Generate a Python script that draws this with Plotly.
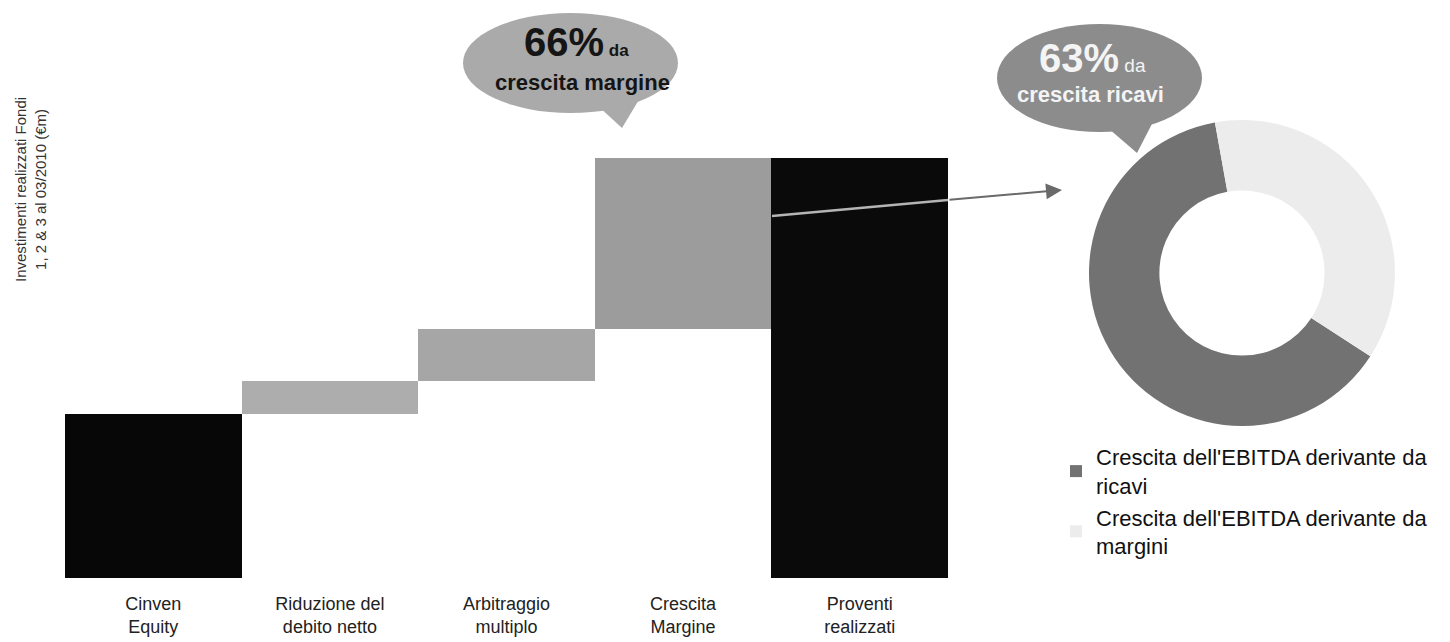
import plotly.graph_objects as go

W, H = 1450, 642

# ---- data ----
categories = ["Cinven Equity", "Riduzione del debito netto", "Arbitraggio multiplo",
              "Crescita Margine", "Proventi realizzati"]
tick_labels = ["Cinven<br>Equity", "Riduzione del<br>debito netto", "Arbitraggio<br>multiplo",
               "Crescita<br>Margine", "Proventi<br>realizzati"]
equity = 164
steps = [33, 52, 171]          # riduzione debito, arbitraggio multiplo, crescita margine
total = equity + sum(steps)

donut_labels = ["Crescita dell'EBITDA derivante da<br>ricavi",
                "Crescita dell'EBITDA derivante da<br>margini"]
donut_values = [63, 37]

bubble1 = ("66%", "da", "crescita margine")
bubble2 = ("63%", "da", "crescita ricavi")

# waterfall bases / heights
bases = [0]
run = equity
for s in steps:
    bases.append(run)
    run += s
bases.append(0)
heights = [equity] + steps + [total]
bar_colors = ["#070707", "#adadad", "#a6a6a6", "#9c9c9c", "#0a0a0a"]

OFF = 8  # page body margin


def px(x):
    return (x - OFF) / W


def py(y):
    return 1 - (y - OFF) / H


FONT = "Liberation Sans, Arial, sans-serif"

fig = go.Figure()
fig.add_trace(go.Bar(
    x=categories, y=heights, base=bases, width=1,
    marker=dict(color=bar_colors, line=dict(width=0)),
    showlegend=False, hoverinfo="x+y",
))
fig.add_trace(go.Pie(
    labels=donut_labels, values=donut_values, hole=0.54, sort=False,
    direction="clockwise", rotation=123,
    marker=dict(colors=["#727272", "#ececec"], line=dict(width=0)),
    textinfo="none", domain=dict(x=[px(1089), px(1395)], y=[py(426), py(120)]),
    showlegend=True,
))

shapes = []
# bubble 1
shapes.append(dict(type="circle", xref="paper", yref="paper",
                   x0=px(463), x1=px(678), y0=py(113), y1=py(13),
                   fillcolor="#aaaaaa", line=dict(width=0), layer="above"))
shapes.append(dict(type="path", xref="paper", yref="paper",
                   path=f"M{px(598)},{py(106)} L{px(622)},{py(128)} L{px(640)},{py(98)} Z",
                   fillcolor="#aaaaaa", line=dict(width=0), layer="above"))
# bubble 2
shapes.append(dict(type="circle", xref="paper", yref="paper",
                   x0=px(997), x1=px(1202), y0=py(132), y1=py(24),
                   fillcolor="#8c8c8c", line=dict(width=0), layer="above"))
shapes.append(dict(type="path", xref="paper", yref="paper",
                   path=f"M{px(1108)},{py(128)} L{px(1137)},{py(153)} L{px(1155)},{py(118)} Z",
                   fillcolor="#8c8c8c", line=dict(width=0), layer="above"))
# arrow line inside the last bar
shapes.append(dict(type="line", xref="paper", yref="paper",
                   x0=px(772), y0=py(216), x1=px(948), y1=py(200),
                   line=dict(color="#b4b4b4", width=2.5), layer="above"))

annotations = [
    dict(xref="paper", yref="paper", x=px(31), y=py(190), xanchor="center", yanchor="middle",
         textangle=-90, showarrow=False,
         text="Investimenti realizzati Fondi<br>1, 2 & 3 al 03/2010 (€m)",
         font=dict(family=FONT, size=15, color="#333333")),
    dict(xref="paper", yref="paper", x=px(576), y=py(42), xanchor="center", yanchor="middle",
         showarrow=False,
         text=f"<b><span style='font-size:40px'>{bubble1[0]}</span> {bubble1[1]}</b>",
         font=dict(family=FONT, size=17, color="#151515")),
    dict(xref="paper", yref="paper", x=px(582), y=py(82), xanchor="center", yanchor="middle",
         showarrow=False, text=f"<b>{bubble1[2]}</b>",
         font=dict(family=FONT, size=22, color="#151515")),
    dict(xref="paper", yref="paper", x=px(1092), y=py(58), xanchor="center", yanchor="middle",
         showarrow=False,
         text=f"<b><span style='font-size:40px'>{bubble2[0]}</span></b> {bubble2[1]}",
         font=dict(family=FONT, size=19, color="#f4f4f4")),
    dict(xref="paper", yref="paper", x=px(1090), y=py(95), xanchor="center", yanchor="middle",
         showarrow=False, text=f"<b>{bubble2[2]}</b>",
         font=dict(family=FONT, size=22, color="#f4f4f4")),
    dict(xref="paper", yref="paper", x=px(1062), y=py(190), axref="pixel", ayref="pixel",
         ax=-114, ay=10, showarrow=True, arrowhead=2, arrowsize=1.6, arrowwidth=2,
         arrowcolor="#6a6a6a", text=""),
]

fig.update_layout(
    width=W, height=H,
    margin=dict(l=0, r=0, t=0, b=0),
    paper_bgcolor="white", plot_bgcolor="white",
    bargap=0,
    xaxis=dict(domain=[px(65), px(948)], range=[-0.5, 4.5], tickmode="array",
               tickvals=categories, ticktext=tick_labels, showgrid=False, zeroline=False,
               showline=False, ticks="", ticklabelstandoff=13,
               tickfont=dict(family=FONT, size=18, color="#222222")),
    yaxis=dict(domain=[py(578), py(30)], range=[0, 548], visible=False),
    legend=dict(x=px(1056), y=py(436), xanchor="left", yanchor="top",
                font=dict(family=FONT, size=22, color="#111111"),
                bgcolor="rgba(0,0,0,0)", itemwidth=30),
    shapes=shapes, annotations=annotations,
    font=dict(family=FONT),
)

fig.write_html("out.html")
